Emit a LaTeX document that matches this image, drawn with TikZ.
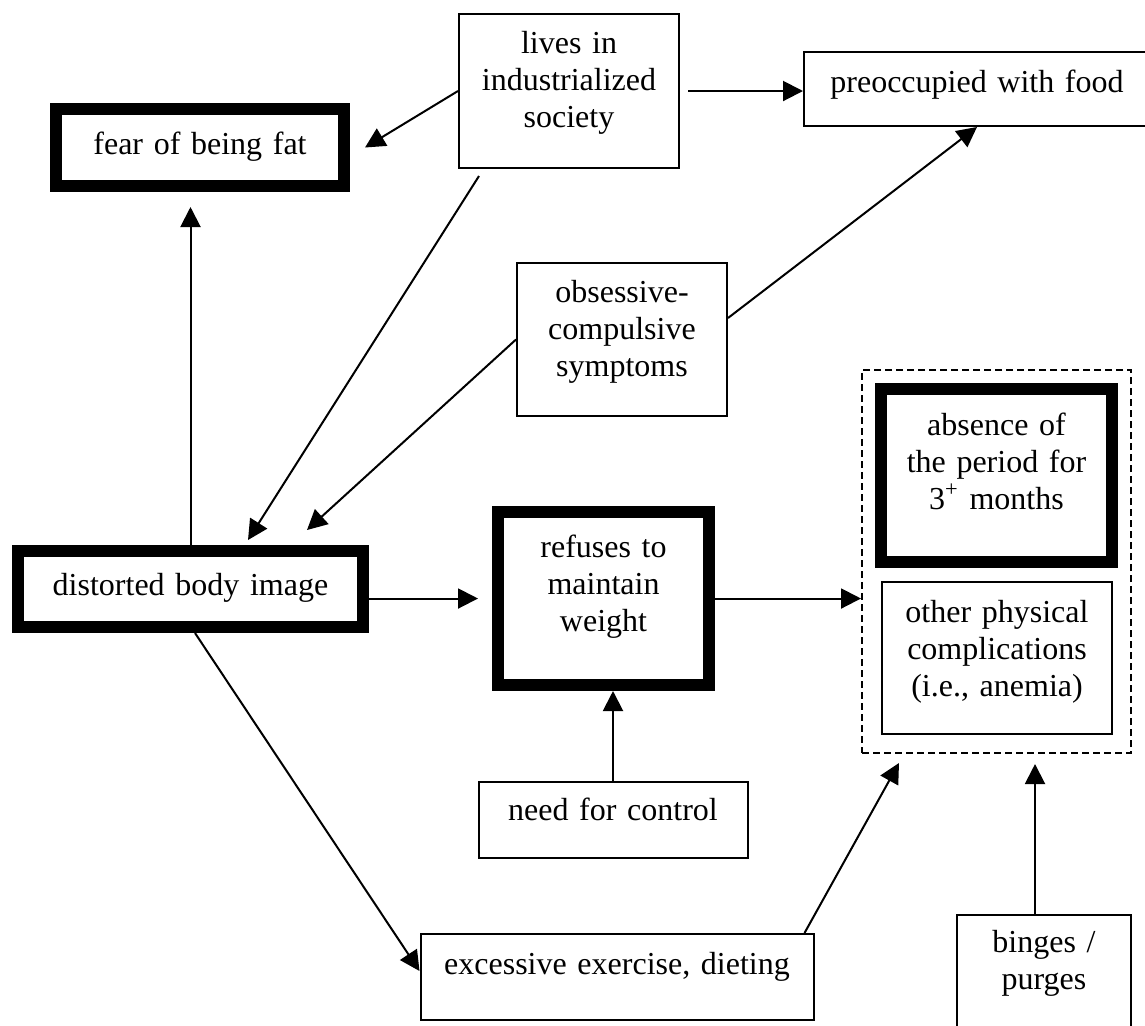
\documentclass[tikz,border=0pt]{standalone}
\usepackage{fontspec}
\setmainfont{Liberation Serif}
\usetikzlibrary{arrows.meta}
\begin{document}
\begin{tikzpicture}[x=0.5pt,y=-0.5pt,
  box/.style={draw, line width=1pt, inner sep=0pt, rectangle},
  thickbox/.style={draw, line width=6pt, inner sep=0pt, rectangle},
  dashbox/.style={draw, line width=1pt, inner sep=0pt, rectangle, dash pattern=on 3.5pt off 2pt},
  txt/.style={anchor=base, text width=300pt, align=center, inner sep=0pt, font=\fontsize{16}{18.5}\selectfont},
  conn/.style={line width=1pt, -{Triangle[length=10pt,width=10pt]}},
]
\useasboundingbox (0,0) rectangle (1145,1025);
\clip (0,0) rectangle (1145,1025);

% boxes
\node[thickbox, minimum width=144pt, minimum height=38.5pt] (fear) at (200,147.5) {};
\node[box, minimum width=110pt, minimum height=77pt] (lives) at (569,91) {};
\node[box, minimum width=173pt, minimum height=37pt] (preoc) at (977,89) {};
\node[box, minimum width=105pt, minimum height=76.5pt] (obs) at (622,339.5) {};
\node[thickbox, minimum width=172.5pt, minimum height=38pt] (distorted) at (190.5,589) {};
\node[thickbox, minimum width=105.5pt, minimum height=86.5pt] (refuses) at (603.5,598.5) {};
\node[dashbox, minimum width=134.5pt, minimum height=191.5pt] (dashed) at (996.5,561.5) {};
\node[thickbox, minimum width=115.5pt, minimum height=86.5pt] (absence) at (996.5,475.5) {};
\node[box, minimum width=115pt, minimum height=76pt] (other) at (997,658) {};
\node[box, minimum width=134.5pt, minimum height=38pt] (need) at (613,819.5) {};
\node[box, minimum width=196.5pt, minimum height=43pt] (excess) at (617,977) {};
\node[box, minimum width=87pt, minimum height=75pt] (binges) at (1044,990) {};

% texts
\node[txt] (fear-t) at ([yshift=-25.5pt]fear.north) {fear of being fat};
\node[txt] (lives-t) at ([yshift=-20pt]lives.north) {lives in\\industrialized\\society};
\node[txt] (preoc-t) at ([yshift=-20.5pt]preoc.north) {preoccupied with food};
\node[txt] (obs-t) at ([yshift=-20pt]obs.north) {obsessive-\\compulsive\\symptoms};
\node[txt] (distorted-t) at ([yshift=-25pt]distorted.north) {distorted body image};
\node[txt] (refuses-t) at ([yshift=-25.5pt]refuses.north) {refuses to\\maintain\\weight};
\node[txt] (absence-t) at ([yshift=-26pt]absence.north) {absence of\\the period for\\3\textsuperscript{+} months};
\node[txt] (other-t) at ([yshift=-20.5pt]other.north) {other physical\\complications\\(i.e., anemia)};
\node[txt] (need-t) at ([yshift=-20pt]need.north) {need for control};
\node[txt] (excess-t) at ([yshift=-20.5pt]excess.north) {excessive exercise, dieting};
\node[txt] (binges-t) at ([yshift=-19pt]binges.north) {binges /\\purges};

% connectors
\draw[conn] (lives.west) -- ([xshift=7.5pt]fear.east);
\draw[conn] ([xshift=4pt]lives.east) -- (lives.east -| preoc.west);
\draw[conn] ([xshift=10.5pt,yshift=-3.5pt]lives.south west) -- ([xshift=118pt,yshift=2.5pt]distorted.north west);
\draw[conn] ([yshift=10.75pt]obs.east) -- (preoc.south);
\draw[conn] (obs.west) -- ([xshift=147.5pt,yshift=7.5pt]distorted.north west);
\draw[conn, shorten >=7.5pt] (distorted.north) -- (distorted.north |- fear.south);
\draw[conn, shorten >=7pt] (distorted.east |- refuses.west) -- (refuses.west);
\draw[conn] (refuses.east) -- (refuses.east -| dashed.west);
\draw[conn] (need.north) -- (need.north |- refuses.south);
\draw[conn] ([xshift=2.25pt]distorted.south) -- ([yshift=3pt]excess.west);
\draw[conn] ([xshift=-5pt]excess.north east) -- ([xshift=19pt,yshift=-4.5pt]dashed.south west);
\coordinate (bt) at ([xshift=-4.5pt]binges.north);
\draw[conn, shorten >=5pt] (bt) -- (bt |- dashed.south);
\end{tikzpicture}
\end{document}
